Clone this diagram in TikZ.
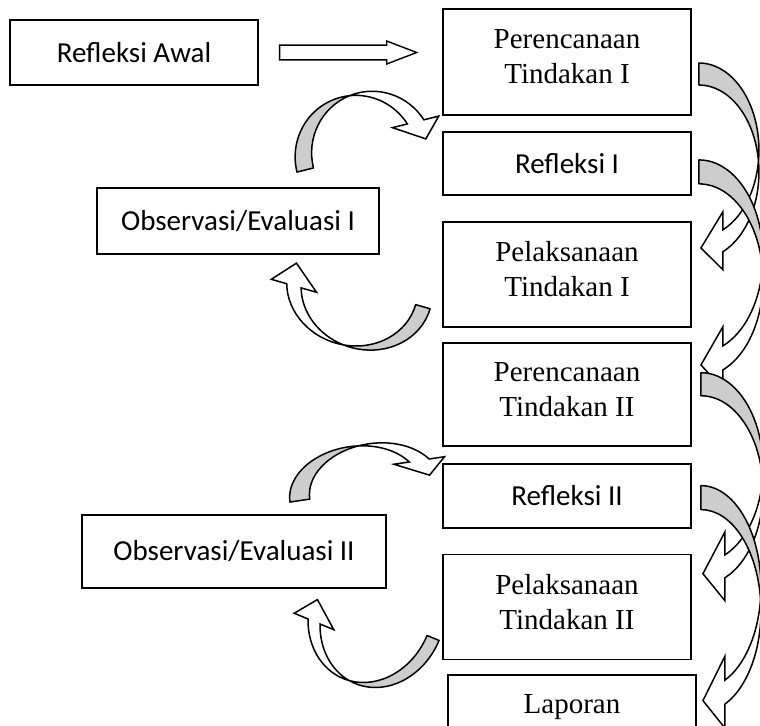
\documentclass[tikz,border=0pt]{standalone}
\usepackage{fontspec}
\setmainfont{Liberation Serif}
\newfontfamily\calibri{Carlito}
\usepackage{tikz}
\usetikzlibrary{positioning, calc, shapes.arrows}
\definecolor{backface}{RGB}{205,205,205}
\newcommand{\boxfont}{\fontsize{14.5}{17.5}\selectfont}
% curved block arrow: placement, x radius, y radius, thickness,
% end angle of the band, barb factor, tip (x,y)
\newcommand{\bentarrow}[8]{%
  \begin{scope}[#1]
    \pgfmathsetmacro{\baCross}{asin(#4/(2*#3))}
    \pgfmathsetmacro{\baX}{#2*cos(#5)}
    \pgfmathsetmacro{\baXc}{#2*cos(\baCross)}
    \pgfmathsetmacro{\baYa}{-#3+#3*sin(#5)}
    \pgfmathsetmacro{\baYb}{\baYa-#4}
    \filldraw[backside] (0,0)
      arc[start angle=90, end angle=-\baCross, x radius=#2, y radius=#3]
      arc[start angle=\baCross, end angle=90, x radius=#2, y radius=#3]
      -- cycle;
    \filldraw[frontside] (\baXc,{-#3-#4/2})
      arc[start angle=\baCross, end angle=#5, x radius=#2, y radius=#3]
      -- (\baX,{\baYb-#6*#4}) -- (#7,#8) -- (\baX,{\baYa+#6*#4})
      -- (\baX,\baYa)
      arc[start angle=#5, end angle=-\baCross, x radius=#2, y radius=#3]
      -- cycle;
  \end{scope}}
\tikzset{
  box/.style={draw, line width=0.95pt, inner sep=0pt, minimum width=124pt,
              font=\boxfont},
  calbox/.style={box, font=\calibri\boxfont},
  timbox/.style={box, align=center, text depth=5pt},
  backside/.style={draw, line width=0.75pt, fill=backface, line join=round},
  frontside/.style={draw, line width=0.75pt, fill=white},
  hollow/.style={single arrow, draw, line width=0.7pt, inner xsep=0pt,
                 inner ysep=3.3pt, minimum height=68.5pt,
                 single arrow head extend=2.1pt, single arrow tip angle=42}
}

\begin{document}
\begin{tikzpicture}[x=0.5pt, y=0.5pt]
  \useasboundingbox (0,0) rectangle (760,725);
  % ── Right column ──
  \node[timbox, minimum height=53pt] (ren1) at (567,663)
    {Perencanaan\\Tindakan I};
  \node[calbox, minimum height=31.5pt, below=7.5pt of ren1] (ref1) {Refleksi I};
  \node[timbox, minimum height=52.5pt, below=12.5pt of ref1] (pel1)
    {Pelaksanaan\\Tindakan I};
  \node[timbox, minimum height=51.5pt, below=7pt of pel1] (ren2)
    {Perencanaan\\Tindakan II};
  \node[calbox, minimum height=32pt, below=8pt of ren2] (ref2) {Refleksi II};
  \node[timbox, minimum height=52.5pt, below=12.5pt of ref2] (pel2)
    {Pelaksanaan\\Tindakan II};
  \node[box, text height=19pt, text depth=20pt, below=7pt of pel2,
        xshift=2.5pt] (lap) {Laporan};
  % ── Left column ──
  \node[calbox, minimum height=32.5pt] (awal) at (134,672.5) {Refleksi Awal};
  \node[calbox, minimum width=141pt, minimum height=33pt] (obs1) at (238,504)
    {Observasi/Evaluasi I};
  \node[calbox, minimum width=152pt, minimum height=36.5pt] (obs2)
    at (234,173.5) {Observasi/Evaluasi II};
  % ── Straight arrow ──
  \node[hollow, right=10pt of awal] (go) {};
  % ── Curved arrows, right ──
  \bentarrow{shift={($(ren1.east)+(7,-1)$)}}{60}{87}{22}{-66.4}{0.82}{2}{-185}
  \bentarrow{shift={($(ref1.east)+(7,3.5)$)}}{64}{96.5}{24}{-68}{0.8}{2}{-205}
  \bentarrow{shift={($(ren2.east)+(9,21.5)$)}}{62}{94.75}{23}{-67.2}{1.0}{2}{-201}
  \bentarrow{shift={($(ref2.east)+(9,10)$)}}{60}{101.5}{24}{-66.4}{1.0}{2}{-215}
  % ── Curved arrows, left ──
  \bentarrow{shift={($(obs1.north)+(59,15)$)}, rotate=104}
    {62}{61}{17}{-71.2}{0.9}{1}{-133}
  \bentarrow{shift={($(pel1.south west)+(-12,19)$)}, rotate=-106}
    {59}{66}{15}{-74.8}{1.07}{-7}{-141}
  \bentarrow{shift={($(obs2.north)+(56,12)$)}, rotate=98.5}
    {46}{66}{20}{-61.4}{0.78}{6}{-142}
  \bentarrow{shift={($(pel2.south west)+(-3,20)$)}, rotate=-112.6}
    {72}{61}{13}{-64.9}{1.15}{9}{-128}
\end{tikzpicture}
\end{document}
